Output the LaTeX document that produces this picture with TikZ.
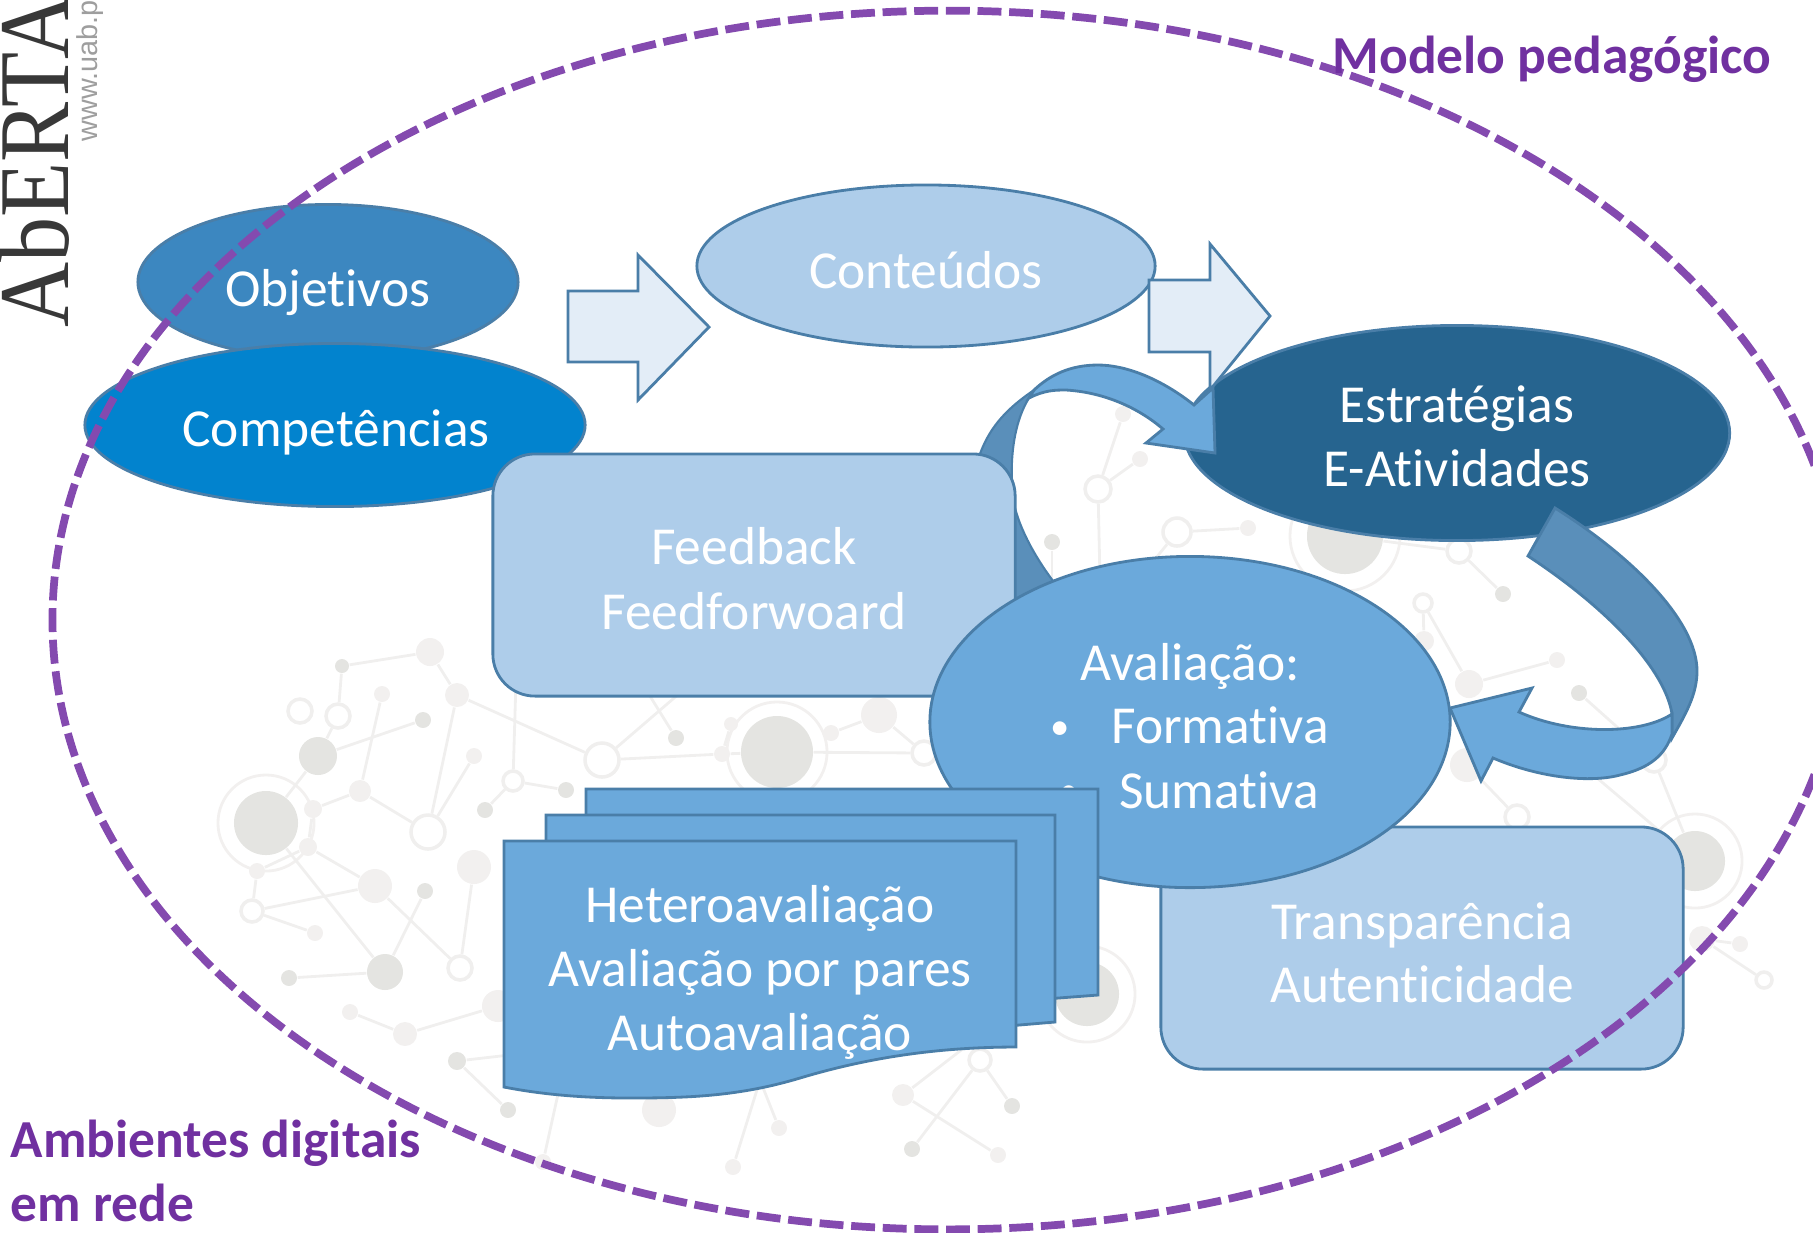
\documentclass[tikz,border=0pt]{standalone}
\usepackage{fontspec}
\setmainfont{Carlito}[Ligatures=NoCommon]
\newfontfamily\logoserif{Liberation Serif}
\newfontfamily\logosans{Liberation Sans}
\usetikzlibrary{shapes.geometric}
\definecolor{linhaazul}{HTML}{4A7EA8}
\definecolor{azulclaro}{HTML}{AECDEA}
\definecolor{azulmedio}{HTML}{6BA9DB}
\definecolor{azulfita}{HTML}{5A8FBA}
\definecolor{azulobjetivos}{HTML}{3C87C0}
\definecolor{azulcompetencias}{HTML}{0283CE}
\definecolor{azulescuro}{HTML}{26648F}
\definecolor{setaclara}{HTML}{E3EDF7}
\definecolor{roxo}{HTML}{7030A0}
\definecolor{roxotraco}{HTML}{844AAF}
\definecolor{redeescura}{HTML}{E4E4E1}
\definecolor{redeclara}{HTML}{F2F0EF}
\definecolor{redelinha}{HTML}{F0EFEE}
\tikzset{
  oval/.style={ellipse, draw=linhaazul, line width=0.8pt, inner sep=0pt, fill=#1},
  caixa/.style={rectangle, draw=linhaazul, line width=0.8pt, inner sep=0pt, fill=azulclaro,
    rounded corners=0.42cm, minimum width=5.22cm, minimum height=2.42cm},
  forma/.style={draw=linhaazul, line width=0.8pt, fill=#1},
  txt/.style={anchor=base, inner sep=0pt, text=white, font=\fontsize{15.2pt}{18pt}\selectfont},
  marca/.style={anchor=base, inner sep=0pt, text=white, font=\fontsize{11pt}{13pt}\selectfont},
  rotulo/.style={anchor=base west, inner sep=0pt, text=roxo, font=\fontsize{15.2pt}{18pt}\selectfont\bfseries},
  netdark/.style={circle, inner sep=0pt, fill=redeescura},
  netlight/.style={circle, inner sep=0pt, fill=redeclara},
  nethollow/.style={circle, inner sep=0pt, draw=redelinha, line width=1pt, fill=white},
  netring/.style={circle, inner sep=0pt, draw=redeclara, line width=0.8pt},
  netline/.style={draw=redelinha, line width=0.8pt},
}

\begin{document}
\begin{tikzpicture}[x=0.01cm, y=-0.01cm]
  \useasboundingbox (0,0) rectangle (1813,1232);

  % Logo
  \node[anchor=base west, inner sep=0pt, rotate=90, xscale=0.9, text=black!78,
    font=\fontsize{28.5pt}{30pt}\logoserif] (logo) at (68,328) {AbERTA};
  \node[anchor=base west, inner sep=0pt, rotate=90, text=black!38,
    font=\fontsize{8.2pt}{10pt}\logosans] (site) at (97,142) {www.uab.p};

  % Network in the background
  \foreach \n/\x/\y/\r in {d1/266/823/32, d2/318/756/19, d3/423/720/8, d4/342/666/7, d5/425/891/8,
      d6/385/972/18, d7/289/978/8, d8/457/1061/9, d9/508/1110/8, d10/1012/1106/8, d11/912/1149/8,
      d12/566/790/8, d13/485/810/8, d14/676/738/8, d15/777/752/36, d16/1087/994/32, d17/1345/536/38,
      d18/1052/542/8, d19/1503/594/8, d20/1579/693/8, d21/1695/861/30}
    \node[netdark, minimum size=\r*0.02cm] (\n) at (\x,\y) {};
  \foreach \n/\x/\y/\r in {l1/382/694/8, l2/457/695/12, l3/430/652/14, l4/360/791/11, l5/313/809/9,
      l6/474/756/8, l7/308/847/9, l8/257/871/8, l9/375/886/17, l10/474/867/17, l11/315/933/8,
      l12/350/1012/8, l13/405/1034/12, l14/498/1006/16, l15/659/1110/17, l16/779/1128/8,
      l17/903/1095/11, l18/998/1155/8, l19/733/1167/8, l20/543/1162/8, l21/722/754/8, l22/731/724/7,
      l23/831/733/8, l24/879/715/18, l25/1123/414/8, l26/1140/459/8, l27/1248/528/8, l28/1424/641/10,
      l29/1557/660/8, l30/1469/684/14, l31/1467/765/17, l32/1702/939/13, l33/1740/944/8}
    \node[netlight, minimum size=\r*0.02cm] (\n) at (\x,\y) {};
  \foreach \n/\x/\y/\r in {h1/338/716/12, h2/300/711/12, h3/513/781/10, h4/428/832/17, h5/252/911/11,
      h6/460/968/12, h7/980/1060/11, h8/602/760/17, h9/924/753/12, h10/1098/489/13, h11/1177/532/14,
      h12/1459/551/12, h13/1423/603/9, h14/1654/760/12, h15/1517/817/12, h16/1764/980/8}
    \node[nethollow, minimum size=\r*0.02cm] (\n) at (\x,\y) {};
  \foreach \n/\x/\y/\r in {r1/266/823/48, r2/777/752/50, r3/1087/994/48, r4/1345/536/55, r5/1695/861/47}
    \node[netring, minimum size=\r*0.02cm] (\n) at (\x,\y) {};

  % Free ends that go under the shapes
  \coordinate (c1) at (516,680);
  \coordinate (c2) at (640,680);
  \coordinate (c3) at (695,680);
  \coordinate (c4) at (1100,580);
  \coordinate (c5) at (1590,772);
  \coordinate (c6) at (1052,600);
  \coordinate (c7) at (1130,590);
  \coordinate (c8) at (640,1040);
  \coordinate (c9) at (560,1085);
  \coordinate (c10) at (760,1080);
  \coordinate (c11) at (1000,1020);
  \coordinate (c12) at (1560,880);

  \foreach \a/\b in {d2/d3, d2/d1, d2/h1, h1/d4, d1/d6, d6/d5, d6/d7, l5/l4, l4/h4, l1/l4, h4/l2,
      h4/l6, l2/h8, l2/l3, l3/d4, h3/c1, h3/d12, h3/d13, l5/l7, l7/l9, l8/h5, l8/l7, h5/l9, h5/l11,
      l9/h6, h6/l10, l12/l13, l13/l14, d8/d9, d8/c8, l20/c9, l16/c10, l19/c10, l17/c11, l17/l18,
      h7/d10, h7/d11, h8/l21, l21/d15, d14/c2, l22/l21, c3/h8, d15/h9, l23/l24, l24/h9, l25/h10,
      l26/h10, h10/c4, h11/l27, h11/c7, d18/c6, d17/h12, h12/d19, h13/l28, l30/l29, l30/h13, d20/h14,
      h14/d21, l31/h15, c5/d21, l32/h16, l32/l33, h15/c12}
    \draw[netline] (\a) -- (\b);

  \node[caixa] (transparencia) at (1422,948) {};

  % Back of the ribbon on the left
  \fill[azulfita, draw=linhaazul, line width=0.6pt] (1034,390) -- (1029,398)
    .. controls (1012,425) and (1008,470) .. (1015,508)
    .. controls (1022,535) and (1040,565) .. (1060,590) -- (1080,640) -- (960,640) -- (975,470)
    .. controls (985,430) and (1005,410) .. cycle;

  \node[oval=azulobjetivos, minimum width=3.8cm, minimum height=1.55cm] (objetivos) at (328,282) {};
  \node[oval=azulcompetencias, minimum width=5cm, minimum height=1.63cm] (competencias) at (335,425) {};
  \node[caixa] (feedback) at (754,575) {};
  \node[oval=azulclaro, minimum width=4.58cm, minimum height=1.62cm] (conteudos) at (926,266) {};
  \node[oval=azulescuro, minimum width=5.45cm, minimum height=2.15cm] (estrategias) at (1457,433) {};
  \node[oval=azulmedio, minimum width=5.2cm, minimum height=3.31cm] (avaliacao) at (1190,722) {};

  % Block arrows
  \draw[forma=setaclara] (568,291) -- (638,291) -- (638,255) -- (709,327) -- (638,400) -- (638,362) -- (568,362) -- cycle;
  \draw[forma=setaclara] (1149,280) -- (1210,280) -- (1210,244) -- (1270,316) -- (1210,390) -- (1210,352) -- (1149,352) -- cycle;

  % Front of the ribbon on the left
  \draw[forma=azulmedio] (1215,453) -- (1213,388) -- (1194,405)
    .. controls (1160,378) and (1125,365) .. (1098,365)
    .. controls (1070,365) and (1050,375) .. (1034,390) -- (1029,398)
    .. controls (1045,390) and (1055,390) .. (1066,390)
    .. controls (1100,392) and (1135,405) .. (1163,429) -- (1146,443) -- cycle;

  % Ribbon on the right
  \draw[forma=azulfita] (1555,508) .. controls (1630,555) and (1697,620) .. (1697,671)
    .. controls (1697,695) and (1685,715) .. (1672,738) -- (1672,714)
    .. controls (1665,670) and (1610,610) .. (1528,556) -- cycle;
  \draw[forma=azulmedio] (1672,714) .. controls (1640,735) and (1570,735) .. (1519,712)
    -- (1532,688) -- (1450,708) -- (1481,781) -- (1493,758)
    .. controls (1540,778) and (1590,783) .. (1620,775)
    .. controls (1650,768) and (1665,755) .. (1672,734) -- cycle;

  % Texts of the shapes under the stack
  \node[txt] (tavaliacao) at (1190,680) {Avaliação:};
  \node[marca] (bullet1) at (1060,739) {•};
  \node[txt] (tformativa) at (1220,743) {Formativa};
  \node[marca] (bullet2) at (1069,803) {•};
  \node[txt] (tsumativa) at (1219,808) {Sumativa};

  % Stack of documents
  \draw[forma=azulmedio] (586,789) -- (1098,789) -- (1098,995) -- (900,1010) -- (586,1010) -- cycle;
  \draw[forma=azulmedio] (546,815) -- (1055,815) -- (1055,1022) -- (900,1035) -- (546,1035) -- cycle;
  \draw[forma=azulmedio] (504,841) -- (1016,841) -- (1016,1047)
    .. controls (930,1047) and (860,1060) .. (800,1078)
    .. controls (740,1096) and (690,1098) .. (630,1098)
    .. controls (580,1098) and (540,1094) .. (504,1087) -- cycle;

  \node[txt] (tobjetivos) at (328,306) {Objetivos};
  \node[txt] (tcompetencias) at (336,446) {Competências};
  \node[txt] (tconteudos) at (926,288) {Conteúdos};
  \node[txt] (testrategias) at (1457,422) {Estratégias};
  \node[txt] (tatividades) at (1457,486) {E-Atividades};
  \node[txt] (tfeedback) at (754,564) {Feedback};
  \node[txt] (tfeedforward) at (754,629) {Feedforwoard};
  \node[txt] (ttransparencia) at (1422,939) {Transparência};
  \node[txt] (tautenticidade) at (1422,1002) {Autenticidade};
  \node[txt] (thetero) at (760,922) {Heteroavaliação};
  \node[txt] (tpares) at (760,986) {Avaliação por pares};
  \node[txt] (tauto) at (760,1050) {Autoavaliação};

  % Dashed ellipse and outer labels
  \node[ellipse, draw=roxotraco, line width=2.2pt, dash pattern=on 6.8pt off 2.2pt, inner sep=0pt,
    minimum width=17.9cm, minimum height=12.18cm] (modelo) at (948,620) {};
  \node[rotulo] (lmodelo) at (1332,73) {Modelo pedagógico};
  \node[rotulo] (lambientes) at (10,1157) {Ambientes digitais};
  \node[rotulo] (lrede) at (10,1221) {em rede};
\end{tikzpicture}
\end{document}
